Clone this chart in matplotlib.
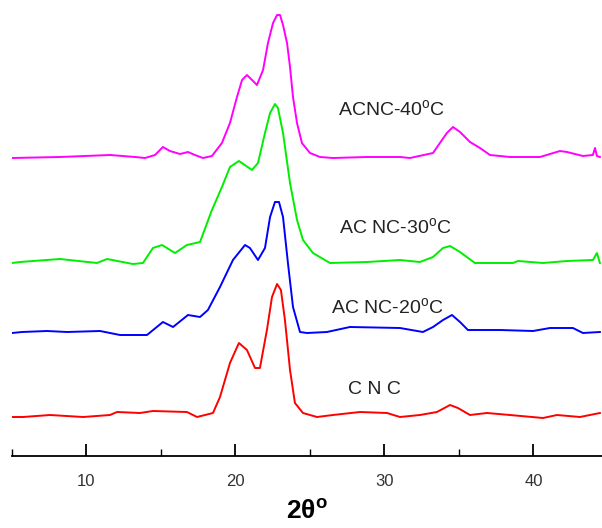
import matplotlib
matplotlib.use("Agg")
import matplotlib.pyplot as plt
from matplotlib.ticker import MultipleLocator

plt.rcParams['font.family'] = ['Liberation Sans', 'DejaVu Sans']
plt.rcParams['mathtext.fontset'] = 'custom'
plt.rcParams['mathtext.rm'] = 'Liberation Sans'
plt.rcParams['mathtext.bf'] = 'Liberation Sans:bold'

# ---- data (2theta, intensity a.u., vertical offsets) ----
tt_40 = [5.0, 8.22, 11.58, 13.26, 13.93, 14.6, 15.13, 15.6, 16.28, 16.81, 17.28, 17.82, 18.42,
         19.09, 19.63, 20.1, 20.44, 20.77, 21.11, 21.44, 21.85, 22.18, 22.52, 22.79, 22.99,
         23.19, 23.46, 23.66, 23.86, 24.13, 24.46, 25.0, 25.67, 26.54, 28.83, 31.04, 31.71,
         33.26, 33.72, 34.19, 34.6, 35.07, 35.74, 36.41, 37.08, 38.42, 40.44, 41.78, 42.25,
         43.32, 43.99, 44.13, 44.26, 44.46]
i_40 = [0, 1, 3, 1, 0, 3, 11, 7, 4, 6, 3, 0, 2,
        15, 35, 61, 78, 83, 78, 73, 88, 115, 135, 143, 143,
        133, 115, 91, 61, 35, 15, 5, 1, 0, 1, 1, 0,
        5, 15, 25, 31, 26, 16, 10, 3, 1, 1, 7, 6,
        2, 3, 10, 2, 1]

tt_30 = [5.0, 5.54, 8.22, 10.7, 11.38, 13.12, 13.79, 14.46, 15.07, 15.94, 16.74, 17.62, 18.42,
         19.09, 19.63, 20.23, 21.11, 21.51, 21.98, 22.32, 22.65, 22.85, 23.19, 23.66, 24.13,
         24.53, 25.2, 26.34, 28.83, 31.04, 32.38, 33.26, 33.93, 34.4, 35.07, 36.07, 38.62,
         38.96, 40.64, 42.25, 43.99, 44.26, 44.46]
i_30 = [0, 1, 4, 0, 4, -1, 0, 15, 18, 10, 18, 21, 53,
        76, 96, 102, 93, 100, 130, 150, 159, 155, 130, 80, 43,
        23, 10, 0, 1, 3, 1, 6, 15, 17, 11, 0, 0,
        2, 0, 2, 3, 10, 0]

tt_20 = [5.0, 5.67, 7.35, 8.69, 10.91, 12.25, 14.06, 15.13, 15.81, 16.81, 17.62, 18.15, 18.96,
         19.83, 20.64, 20.97, 21.51, 21.98, 22.32, 22.65, 22.92, 23.19, 23.52, 23.86, 24.33,
         24.8, 26.14, 27.68, 31.04, 32.58, 33.26, 33.93, 34.53, 35.07, 35.6, 37.75, 39.97,
         41.11, 42.65, 43.32, 44.46]
i_20 = [-1, 0, 1, 0, 1, -3, -3, 10, 5, 17, 15, 22, 45,
        72, 87, 84, 72, 84, 115, 130, 130, 115, 69, 25, 0,
        -1, 0, 5, 4, 0, 5, 12, 17, 10, 2, 2, 1,
        4, 4, -1, 0]

tt_cnc = [5.0, 5.74, 7.55, 9.77, 11.58, 12.05, 13.59, 14.46, 16.74, 17.42, 18.49, 18.96, 19.63,
          20.23, 20.77, 21.31, 21.64, 22.11, 22.45, 22.79, 23.05, 23.32, 23.66, 23.99, 24.53,
          25.47, 26.54, 28.36, 30.17, 31.04, 32.38, 33.52, 34.4, 34.93, 35.74, 36.88, 38.42,
          40.64, 41.58, 43.12, 44.46]
i_cnc = [-1, -1, 1, -1, 1, 4, 3, 5, 4, -1, 3, 19, 53,
         73, 66, 48, 48, 86, 119, 132, 126, 96, 46, 13, 3,
         -1, 1, 4, 3, -1, 1, 4, 11, 8, 1, 3, 1,
         -2, 1, -1, 3]

labels = ['C N C', 'AC NC-20$^\\mathrm{o}$C', 'AC NC-30$^\\mathrm{o}$C', 'ACNC-40$^\\mathrm{o}$C']
offsets = [40, 124, 193, 298]
colors = ['#ff0000', '#0000ff', '#00ee00', '#ff00ff']
label_x = [29.3, 30.2, 30.7, 30.5]
label_y = [66, 148, 228, 346]

series_tt = [tt_cnc, tt_20, tt_30, tt_40]
series_i = [i_cnc, i_20, i_30, i_40]

fig = plt.figure(figsize=(6.02, 5.28), dpi=100)
ax = fig.add_axes([12 / 602, (528 - 456) / 528, 590 / 602, 456 / 528])

for tt, inten, off, c in zip(series_tt, series_i, offsets, colors):
    ax.plot(tt, [v + off for v in inten], color=c, lw=1.4)

for lab, lx, ly in zip(labels, label_x, label_y):
    ax.text(lx, ly, lab, ha='center', va='center', fontsize=14, color='#222222')

ax.set_xlim(5, 44.6)
ax.set_ylim(0, 456)
for s in ['top', 'left', 'right']:
    ax.spines[s].set_visible(False)
ax.spines['bottom'].set_linewidth(1.3)
ax.set_yticks([])
ax.xaxis.set_major_locator(MultipleLocator(10))
ax.xaxis.set_minor_locator(MultipleLocator(5))
ax.tick_params(axis='x', which='major', direction='in', length=9, width=1.3,
               pad=13, labelsize=12, labelcolor='#333333')
ax.tick_params(axis='x', which='minor', direction='in', length=5, width=1.0)
ax.set_xlabel('2θ$^\\mathbf{o}$', fontsize=19, fontweight='bold', labelpad=7)
ax.patch.set_alpha(0)

fig.savefig('out.png', dpi=100)
